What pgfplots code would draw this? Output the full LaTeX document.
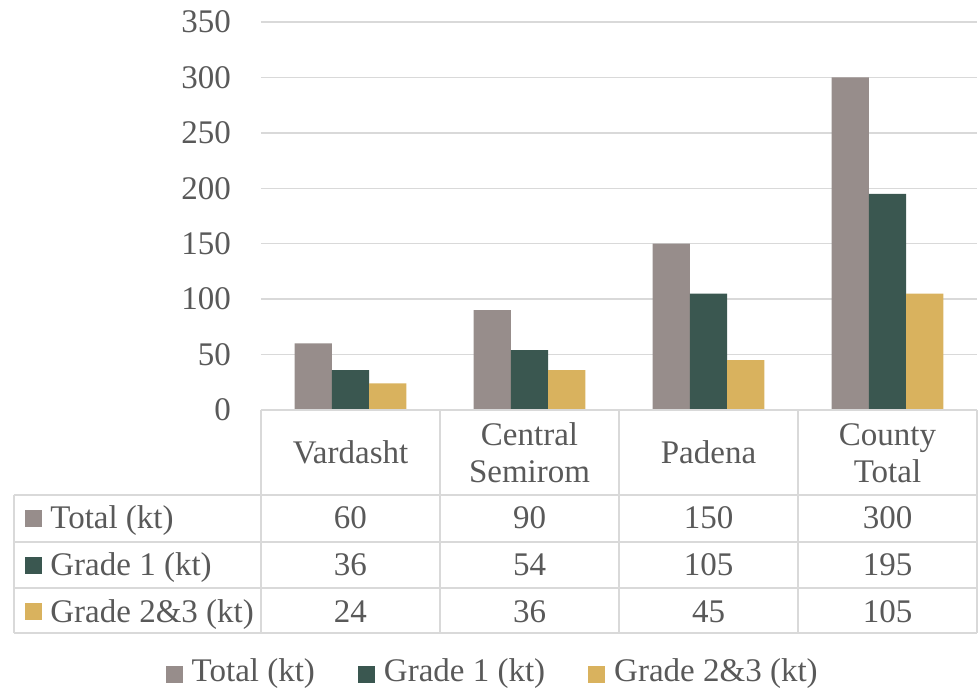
\documentclass[border=0pt]{standalone}
\usepackage{fontspec}
\setmainfont{Liberation Serif}
\usepackage{pgfplots}
\pgfplotsset{compat=1.18}
\definecolor{cTot}{HTML}{978D8B}
\definecolor{cGa}{HTML}{3A5750}
\definecolor{cGb}{HTML}{D9B25E}
\definecolor{cGrid}{HTML}{D9D9D9}
\definecolor{cTxt}{HTML}{595959}
\newcommand{\cf}{\fontsize{16.5}{18.5}\selectfont}
\begin{document}
\begin{tikzpicture}[font=\cf, text=cTxt]
\useasboundingbox (-130.5pt,-141.5pt) rectangle (359.5pt,205pt);
\begin{axis}[
  at={(0pt,0pt)}, anchor=south west,
  scale only axis, width=358pt, height=194pt,
  xmin=-0.5, xmax=3.5, ymin=0, ymax=350,
  ytick={0,50,...,350},
  xtick=\empty,
  ymajorgrids, grid style={cGrid, line width=0.7pt},
  axis line style={draw=none},
  major tick length=0pt,
  tick label style={font=\cf, text=cTxt},
  yticklabel style={xshift=-11.5pt},
  /pgf/number format/assume math mode=true,
  ybar=0pt, bar width=18.65pt,
  legend columns=3,
  legend style={at={(0.325,-0.675)}, anchor=center, draw=none, fill=none,
    font=\cf, text=cTxt,
    /tikz/every even column/.append style={column sep=19.5pt}},
  legend image code/.code={\fill[#1] (0pt,-5.75pt) rectangle (8.5pt,2.75pt); \path (11pt,0pt);},
]
\addplot[fill=cTot, draw=none] coordinates {(0,60) (1,90) (2,150) (3,300)};
\addplot[fill=cGa, draw=none] coordinates {(0,36) (1,54) (2,105) (3,195)};
\addplot[fill=cGb, draw=none] coordinates {(0,24) (1,36) (2,45) (3,105)};
\legend{Total (kt), Grade 1 (kt), Grade 2\&3 (kt)}
\end{axis}
\begin{scope}[shift={(-130.5pt,205pt)}, x=0.5pt, y=-0.5pt]
  \draw[cGrid, line width=0.6pt]
    (261,410) -- (977,410)
    (14,495) -- (977,495)
    (14,542) -- (977,542)
    (14,588) -- (977,588)
    (14,633) -- (977,633)
    (14,495) -- (14,633)
    (261,410) -- (261,633)
    (440,410) -- (440,633)
    (619,410) -- (619,633)
    (798,410) -- (798,633)
    (977,410) -- (977,633);
  \tikzset{cell/.style={anchor=base, inner sep=0pt, text=cTxt}}
  % header
  \node[cell] at (350.5,463) {Vardasht};
  \node[cell] at (529.5,445) {Central};
  \node[cell] at (529.5,482) {Semirom};
  \node[cell] at (708.5,463) {Padena};
  \node[cell] at (887.5,445) {County};
  \node[cell] at (887.5,482) {Total};
  % rows
  \fill[cTot] (25,510) rectangle (42,527);
  \fill[cGa] (25,557) rectangle (42,574);
  \fill[cGb] (25,603) rectangle (42,620);
  \node[cell, anchor=base west] at (50,528) {Total (kt)};
  \node[cell, anchor=base west] at (50,575) {Grade 1 (kt)};
  \node[cell, anchor=base west] at (50,622) {Grade 2\&3 (kt)};
  \node[cell] at (350.5,528) {60};
  \node[cell] at (529.5,528) {90};
  \node[cell] at (708.5,528) {150};
  \node[cell] at (887.5,528) {300};
  \node[cell] at (350.5,575) {36};
  \node[cell] at (529.5,575) {54};
  \node[cell] at (708.5,575) {105};
  \node[cell] at (887.5,575) {195};
  \node[cell] at (350.5,622) {24};
  \node[cell] at (529.5,622) {36};
  \node[cell] at (708.5,622) {45};
  \node[cell] at (887.5,622) {105};
\end{scope}
\end{tikzpicture}
\end{document}
